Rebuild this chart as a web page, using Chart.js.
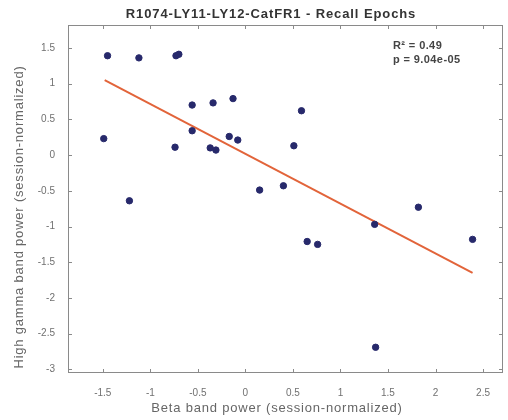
<!DOCTYPE html>
<html>
<head>
<meta charset="utf-8">
<script src="https://cdn.jsdelivr.net/npm/chart.js@4"></script>
<style>
  html, body { margin: 0; padding: 0; background: #fff; }
  #wrap { width: 508px; height: 420px; }
</style>
</head>
<body>
<div id="wrap"><canvas id="plot" width="508" height="420"></canvas></div>
<script>
// values
const betaPower = [-1.45, -1.49, -1.12, -1.22, -0.73, -0.70, -0.56, -0.56, -0.74, -0.34,
	-0.37, -0.31, -0.13, -0.17, -0.08, 0.15, 0.59, 0.51, 0.40, 1.82,
	1.36, 0.65, 0.76, 2.39, 1.37];
const gammaPower = [1.39, 0.23, 1.36, -0.64, 1.39, 1.41, 0.70, 0.34, 0.11, 0.73,
	0.10, 0.07, 0.79, 0.26, 0.21, -0.49, 0.62, 0.13, -0.43, -0.73,
	-0.97, -1.21, -1.25, -1.18, -2.69];
const fitX = [-1.48, 2.39];
const fitY = [1.05, -1.65];
const xTicks = [-1.5, -1, -0.5, 0, 0.5, 1, 1.5, 2, 2.5];
const yTicks = [1.5, 1, 0.5, 0, -0.5, -1, -1.5, -2, -2.5, -3];
const statLines = ['R\u00b2 = 0.49', 'p = 9.04e-05'];
const titleText = 'R1074-LY11-LY12-CatFR1 - Recall Epochs';
const xLabel = 'Beta band power (session-normalized)';
const yLabel = 'High gamma band power (session-normalized)';

const fontFam = '"Liberation Sans", Arial, sans-serif';
const axisGray = '#8a8a8a';
const textGray = '#707070';

// MATLAB style box with inward ticks on every side, plus the texts
const boxPlugin = {
	id: 'box',
	afterDatasetsDraw(chart) {
		const ctx = chart.ctx;
		const a = chart.chartArea;
		const xs = chart.scales.x, ys = chart.scales.y;
		ctx.save();
		ctx.strokeStyle = axisGray;
		ctx.lineWidth = 1;
		ctx.strokeRect(a.left + 0.5, a.top + 0.5, a.right - a.left - 1, a.bottom - a.top - 1);
		ctx.beginPath();
		xTicks.forEach(v => {
			const px = Math.round(xs.getPixelForValue(v)) + 0.5;
			ctx.moveTo(px, a.bottom); ctx.lineTo(px, a.bottom - 4);
			ctx.moveTo(px, a.top); ctx.lineTo(px, a.top + 4);
		});
		yTicks.forEach(v => {
			const py = Math.round(ys.getPixelForValue(v)) + 0.5;
			ctx.moveTo(a.left, py); ctx.lineTo(a.left + 4, py);
			ctx.moveTo(a.right, py); ctx.lineTo(a.right - 4, py);
		});
		ctx.stroke();

		ctx.textBaseline = 'middle';

		// title
		ctx.fillStyle = '#333';
		ctx.font = 'bold 13px ' + fontFam;
		ctx.letterSpacing = '0.9px';
		ctx.textAlign = 'center';
		ctx.fillText(titleText, 271, 14);

		// axis labels
		ctx.fillStyle = '#666';
		ctx.font = '13px ' + fontFam;
		ctx.letterSpacing = '0.8px';
		ctx.fillText(xLabel, 277, 408);
		ctx.save();
		ctx.translate(19, 217);
		ctx.rotate(-Math.PI / 2);
		ctx.fillText(yLabel, 0, 0);
		ctx.restore();

		// stats
		ctx.font = 'bold 11px ' + fontFam;
		ctx.letterSpacing = '0.4px';
		ctx.textAlign = 'left';
		ctx.fillStyle = '#444';
		statLines.forEach((s, i) => ctx.fillText(s, 393, 46 + i * 14));
		ctx.restore();
	}
};

const config = {
	type: 'scatter',
	data: {
		datasets: [
			{
				label: 'trials',
				data: betaPower.map((x, i) => ({x: x, y: gammaPower[i]})),
				backgroundColor: '#27296b',
				borderColor: '#27296b',
				pointRadius: 3.2,
				pointHoverRadius: 3.2
			},
			{
				label: 'fit',
				type: 'line',
				data: fitX.map((x, i) => ({x: x, y: fitY[i]})),
				borderColor: '#e2643a',
				borderWidth: 2,
				pointRadius: 0,
				fill: false
			}
		]
	},
	options: {
		responsive: false,
		animation: false,
		layout: { padding: { top: 25, right: 5, left: 0, bottom: 0 } },
		plugins: {
			legend: { display: false },
			tooltip: { enabled: false }
		},
		scales: {
			x: {
				type: 'linear',
				min: -1.866,
				max: 2.71,
				afterFit: s => { s.height = 47; },
				afterBuildTicks: s => { s.ticks = xTicks.map(v => ({value: v})); },
				grid: { display: false, drawTicks: false },
				border: { display: false },
				ticks: {
					padding: 14,
					color: textGray,
					font: { size: 10, family: fontFam },
					callback: v => String(v)
				}
			},
			y: {
				type: 'linear',
				min: -3.05,
				max: 1.82,
				afterFit: s => { s.width = 68; },
				afterBuildTicks: s => { s.ticks = yTicks.map(v => ({value: v})); },
				grid: { display: false, drawTicks: false },
				border: { display: false },
				ticks: {
					padding: 13,
					color: textGray,
					font: { size: 10, family: fontFam },
					callback: v => String(v)
				}
			}
		}
	},
	plugins: [boxPlugin]
};

new Chart(document.getElementById('plot'), config);
</script>
</body>
</html>
